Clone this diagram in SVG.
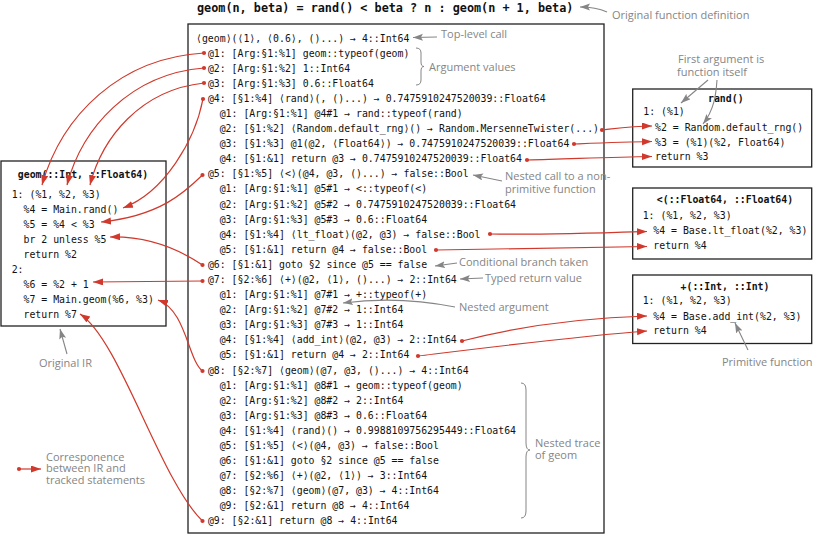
<svg xmlns="http://www.w3.org/2000/svg" width="819" height="536" viewBox="0 0 819 536">
<style>
  .code { font-family: "DejaVu Sans Mono", "Liberation Mono", monospace; font-size: 9.85px; fill: #111; }
  .hdr { font-weight: bold; }
  .ctr { text-anchor: middle; }
  .note { font-family: "Open Sans", "Liberation Sans", sans-serif; font-size: 11px; fill: #858585; }
  .box { fill: #fff; stroke: #222; stroke-width: 1.3; }
  .link { fill: none; stroke: #d0392c; stroke-width: 1.2; marker-start: url(#dot); marker-end: url(#head); }
  .pointer { fill: none; stroke: #858585; stroke-width: 1.1; marker-end: url(#ghead); }
  .brace { fill: none; stroke: #858585; stroke-width: 1; }
</style>
<defs>
  <marker id="head" markerUnits="userSpaceOnUse" markerWidth="11" markerHeight="8" refX="10" refY="3.5" orient="auto">
    <path d="M0,0 L10,3.5 L0,7 Z" fill="#d0392c"/>
  </marker>
  <marker id="dot" markerUnits="userSpaceOnUse" markerWidth="6" markerHeight="6" refX="3" refY="3">
    <circle cx="3" cy="3" r="2.1" fill="#d0392c"/>
  </marker>
  <marker id="ghead" markerUnits="userSpaceOnUse" markerWidth="11" markerHeight="8" refX="10" refY="3.5" orient="auto">
    <path d="M0,0 L10,3.5 L0,7 L2,3.5 Z" fill="#858585"/>
  </marker>
</defs>
<rect width="819" height="536" fill="#fff"/>

<!-- source definition -->
<g id="definition">
  <text class="code hdr" x="197" y="12" style="font-size:11.8px">geom(n, beta) = rand() &lt; beta ? n : geom(n + 1, beta)</text>
</g>

<!-- execution trace -->
<g id="trace">
  <rect class="box" x="188" y="24" width="416" height="509"/>
  <g class="code">
    <text x="196" y="41.5">⟨geom⟩(⟨1⟩, ⟨0.6⟩, ()...) → 4::Int64</text>
    <text x="207.9" y="56.6">@1: [Arg:§1:%1] geom::typeof(geom)</text>
    <text x="207.9" y="71.7">@2: [Arg:§1:%2] 1::Int64</text>
    <text x="207.9" y="86.8">@3: [Arg:§1:%3] 0.6::Float64</text>
    <text x="207.9" y="101.9">@4: [§1:%4] ⟨rand⟩(, ()...) → 0.7475910247520039::Float64</text>
    <text x="219.7" y="117.0">@1: [Arg:§1:%1] @4#1 → rand::typeof(rand)</text>
    <text x="219.7" y="132.0">@2: [§1:%2] ⟨Random.default_rng⟩() → Random.MersenneTwister(...)</text>
    <text x="219.7" y="147.1">@3: [§1:%3] @1(@2, ⟨Float64⟩) → 0.7475910247520039::Float64</text>
    <text x="219.7" y="162.2">@4: [§1:&amp;1] return @3 → 0.7475910247520039::Float64</text>
    <text x="207.9" y="177.3">@5: [§1:%5] ⟨&lt;⟩(@4, @3, ()...) → false::Bool</text>
    <text x="219.7" y="192.4">@1: [Arg:§1:%1] @5#1 → &lt;::typeof(&lt;)</text>
    <text x="219.7" y="207.5">@2: [Arg:§1:%2] @5#2 → 0.7475910247520039::Float64</text>
    <text x="219.7" y="222.6">@3: [Arg:§1:%3] @5#3 → 0.6::Float64</text>
    <text x="219.7" y="237.7">@4: [§1:%4] ⟨lt_float⟩(@2, @3) → false::Bool</text>
    <text x="219.7" y="252.8">@5: [§1:&amp;1] return @4 → false::Bool</text>
    <text x="207.9" y="267.9">@6: [§1:&amp;1] goto §2 since @5 == false</text>
    <text x="207.9" y="282.9">@7: [§2:%6] ⟨+⟩(@2, ⟨1⟩, ()...) → 2::Int64</text>
    <text x="219.7" y="298.0">@1: [Arg:§1:%1] @7#1 → +::typeof(+)</text>
    <text x="219.7" y="313.1">@2: [Arg:§1:%2] @7#2 → 1::Int64</text>
    <text x="219.7" y="328.2">@3: [Arg:§1:%3] @7#3 → 1::Int64</text>
    <text x="219.7" y="343.3">@4: [§1:%4] ⟨add_int⟩(@2, @3) → 2::Int64</text>
    <text x="219.7" y="358.4">@5: [§1:&amp;1] return @4 → 2::Int64</text>
    <text x="207.9" y="373.5">@8: [§2:%7] ⟨geom⟩(@7, @3, ()...) → 4::Int64</text>
    <text x="219.7" y="388.6">@1: [Arg:§1:%1] @8#1 → geom::typeof(geom)</text>
    <text x="219.7" y="403.7">@2: [Arg:§1:%2] @8#2 → 2::Int64</text>
    <text x="219.7" y="418.8">@3: [Arg:§1:%3] @8#3 → 0.6::Float64</text>
    <text x="219.7" y="433.8">@4: [§1:%4] ⟨rand⟩() → 0.9988109756295449::Float64</text>
    <text x="219.7" y="448.9">@5: [§1:%5] ⟨&lt;⟩(@4, @3) → false::Bool</text>
    <text x="219.7" y="464.0">@6: [§1:&amp;1] goto §2 since @5 == false</text>
    <text x="219.7" y="479.1">@7: [§2:%6] ⟨+⟩(@2, ⟨1⟩) → 3::Int64</text>
    <text x="219.7" y="494.2">@8: [§2:%7] ⟨geom⟩(@7, @3) → 4::Int64</text>
    <text x="219.7" y="509.3">@9: [§2:&amp;1] return @8 → 4::Int64</text>
    <text x="207.9" y="524.4">@9: [§2:&amp;1] return @8 → 4::Int64</text>
  </g>
</g>

<!-- IR of geom -->
<g id="ir-geom">
  <rect class="box" x="1" y="161" width="165" height="165"/>
  <g class="code">
    <text class="hdr ctr" x="83" y="177.5">geom(::Int, ::Float64)</text>
    <text x="11.7" y="198">1: (%1, %2, %3)</text>
    <text x="23.5" y="213">%4 = Main.rand()</text>
    <text x="23.5" y="228">%5 = %4 &lt; %3</text>
    <text x="23.5" y="243">br 2 unless %5</text>
    <text x="23.5" y="258">return %2</text>
    <text x="11.7" y="273">2:</text>
    <text x="23.5" y="288">%6 = %2 + 1</text>
    <text x="23.5" y="303">%7 = Main.geom(%6, %3)</text>
    <text x="23.5" y="318">return %7</text>
  </g>
</g>

<!-- IR of rand -->
<g id="ir-rand">
  <rect class="box" x="632.7" y="89" width="179" height="78"/>
  <g class="code">
    <text class="hdr ctr" x="725.8" y="101.5">rand()</text>
    <text x="643.3" y="115.2">1: (%1)</text>
    <text x="655" y="130.5">%2 = Random.default_rng()</text>
    <text x="655" y="145.5">%3 = (%1)(%2, Float64)</text>
    <text x="655" y="160.2">return %3</text>
  </g>
</g>

<!-- IR of < -->
<g id="ir-lt">
  <rect class="box" x="632.7" y="188" width="179" height="71"/>
  <g class="code">
    <text class="hdr ctr" x="725" y="202.5">&lt;(::Float64, ::Float64)</text>
    <text x="642.7" y="218.5">1: (%1, %2, %3)</text>
    <text x="653.3" y="234.2">%4 = Base.lt_float(%2, %3)</text>
    <text x="653.3" y="248.8">return %4</text>
  </g>
</g>

<!-- IR of + -->
<g id="ir-add">
  <rect class="box" x="632.7" y="275" width="179" height="68.5"/>
  <g class="code">
    <text class="hdr ctr" x="725" y="289.5">+(::Int, ::Int)</text>
    <text x="642.7" y="304.2">1: (%1, %2, %3)</text>
    <text x="653.3" y="319.5">%4 = Base.add_int(%2, %3)</text>
    <text x="653.3" y="334.2">return %4</text>
  </g>
</g>

<!-- correspondence between trace statements and IR statements -->
<g id="connectors">
  <path class="link" d="M204,53 C120,58 62,115 42,185"/>
  <path class="link" d="M204,68 C130,74 82,128 67,185"/>
  <path class="link" d="M204,83 C140,90 102,138 90,185"/>
  <path class="link" d="M203,99 C195,140 165,192 123,208"/>
  <path class="link" d="M202.5,175 C185,192 160,216 101,222"/>
  <path class="link" d="M202.5,265 C180,250 150,236 110,237"/>
  <path class="link" d="M202.5,281 L93,282"/>
  <path class="link" d="M202.5,371 C188,360 186,310 158,300"/>
  <path class="link" d="M202.5,521 C160,480 120,340 80,314"/>
  <path class="link" d="M602,130 C620,128 635,126 652,126"/>
  <path class="link" d="M574,144 C600,143 625,142 652,141.5"/>
  <path class="link" d="M527,160 C570,159 610,157 652,156.5"/>
  <path class="link" d="M490,234 C540,235 600,233 647,231.5"/>
  <path class="link" d="M436,250 C510,249 580,247 647,246.5"/>
  <path class="link" d="M462,341 C520,326 580,318 647,316"/>
  <path class="link" d="M418,356 C500,346 580,336 647,331"/>
  <path class="link" d="M19,469 L41,469"/>
</g>

<!-- annotations -->
<g id="annotations">
  <path class="pointer" d="M607,12 C598,8 592,7 580,7"/>
  <text class="note" x="612" y="19">Original function definition</text>

  <path class="pointer" d="M437,37 L413,37.5"/>
  <text class="note" x="441" y="38">Top-level call</text>

  <path class="brace" d="M416,48 Q421,48 421,53 L421,62 Q421,66.5 424,66.5 Q421,66.5 421,71 L421,80 Q421,85 416,85"/>
  <text class="note" x="429" y="71">Argument values</text>

  <text class="note"><tspan x="678" y="63">First argument is</tspan><tspan x="677" y="76">function itself</tspan></text>
  <path class="pointer" d="M708,80 L681,103"/>
  <path class="pointer" d="M717,80 C716,95 714,110 703,124"/>

  <path class="pointer" d="M502,181 L473,175"/>
  <text class="note"><tspan x="505" y="179.5">Nested call to a non-</tspan><tspan x="505" y="192.5">primitive function</tspan></text>

  <path class="pointer" d="M457,263 L435,266"/>
  <text class="note" x="459" y="265.5">Conditional branch taken</text>

  <path class="pointer" d="M483,278 L460,279"/>
  <text class="note" x="485" y="281.5">Typed return value</text>

  <path class="pointer" d="M455,307 C420,300 380,298 343,303"/>
  <text class="note" x="459" y="310.5">Nested argument</text>

  <path class="pointer" d="M748,350 L735,323"/>
  <text class="note" x="722" y="366">Primitive function</text>

  <path class="pointer" d="M67,354 L60,329"/>
  <text class="note" x="39" y="367">Original IR</text>

  <path class="brace" d="M521,383 Q526,383 526,390 L526,443 Q526,450 530,450 Q526,450 526,457 L526,511 Q526,518 521,518"/>
  <text class="note"><tspan x="535" y="446.5">Nested trace</tspan><tspan x="535" y="458.5">of geom</tspan></text>

  <text class="note"><tspan x="46" y="460.5">Corresponence</tspan><tspan x="46" y="472">between IR and</tspan><tspan x="46" y="484">tracked statements</tspan></text>
</g>
</svg>
